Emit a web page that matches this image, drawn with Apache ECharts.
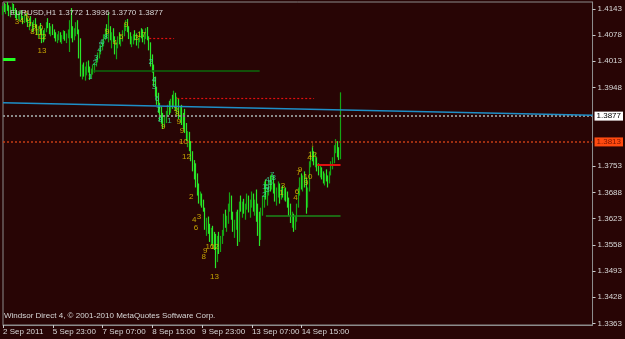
<!DOCTYPE html>
<html>
<head>
<meta charset="utf-8">
<script src="https://cdn.jsdelivr.net/npm/echarts@6/dist/echarts.min.js"></script>
<style>
  html, body { margin: 0; padding: 0; background: #280505; }
  #chart { width: 625px; height: 339px; }
</style>
</head>
<body>
<div id="chart"></div>
<script>
// EURUSD H1, one bar per hour
const xTickLabels = ['2 Sep 2011', '5 Sep 23:00', '7 Sep 07:00', '8 Sep 15:00', '9 Sep 23:00', '13 Sep 07:00', '14 Sep 15:00'];
const barsPerTick = 32;
const slotCount = 380; // chart leaves empty room to the right of the last bar
const yTicks = [1.3363, 1.3428, 1.3493, 1.3558, 1.3623, 1.3688, 1.3753, 1.3948, 1.4013, 1.4078, 1.4143];

const firstOpen = 1.4135;
const closes = [
  1.4145, 1.4140, 1.4150, 1.4142, 1.4130, 1.4145, 1.4150, 1.4135, 1.4128, 1.4120,
  1.4122, 1.4130, 1.4118, 1.4110, 1.4125, 1.4115, 1.4102, 1.4112, 1.4105, 1.4090,
  1.4110, 1.4100, 1.4082, 1.4095, 1.4085, 1.4075, 1.4070, 1.4090, 1.4105, 1.4100,
  1.4085, 1.4095, 1.4082, 1.4075, 1.4068, 1.4075, 1.4082, 1.4065, 1.4072, 1.4085,
  1.4070, 1.4078, 1.4088, 1.4105, 1.4090, 1.4070, 1.4088, 1.4100, 1.4085, 1.4030,
  1.3985, 1.3995, 1.3980, 1.3990, 1.4005, 1.3990, 1.3975, 1.3990, 1.4000, 1.4008,
  1.4020, 1.4030, 1.4040, 1.4050, 1.4060, 1.4075, 1.4085, 1.4080, 1.4090, 1.4070,
  1.4080, 1.4065, 1.4040, 1.4050, 1.4070, 1.4060, 1.4072, 1.4085, 1.4100, 1.4110,
  1.4090, 1.4075, 1.4060, 1.4068, 1.4075, 1.4070, 1.4058, 1.4065, 1.4083, 1.4080,
  1.4065, 1.4078, 1.4088, 1.4070, 1.4050, 1.4010, 1.3995, 1.3960, 1.3935, 1.3915,
  1.3895, 1.3880, 1.3870, 1.3862, 1.3875, 1.3885, 1.3900, 1.3890, 1.3915, 1.3905,
  1.3930, 1.3895, 1.3915, 1.3880, 1.3890, 1.3865, 1.3855, 1.3845, 1.3825, 1.3830,
  1.3800, 1.3775, 1.3750, 1.3735, 1.3710, 1.3705, 1.3670, 1.3680, 1.3660, 1.3648,
  1.3605, 1.3615, 1.3592, 1.3575, 1.3590, 1.3568, 1.3560, 1.3520, 1.3570, 1.3545,
  1.3575, 1.3585, 1.3625, 1.3610, 1.3620, 1.3650, 1.3675, 1.3630, 1.3600, 1.3610,
  1.3630, 1.3570, 1.3655, 1.3650, 1.3660, 1.3645, 1.3655, 1.3675, 1.3648, 1.3660,
  1.3680, 1.3650, 1.3665, 1.3625, 1.3600, 1.3575, 1.3640, 1.3670, 1.3705, 1.3680,
  1.3690, 1.3710, 1.3700, 1.3725, 1.3695, 1.3675, 1.3690, 1.3705, 1.3670, 1.3690,
  1.3680, 1.3688, 1.3675, 1.3660, 1.3640, 1.3625, 1.3630, 1.3600, 1.3620, 1.3650,
  1.3690, 1.3715, 1.3700, 1.3720, 1.3710, 1.3650, 1.3690, 1.3755, 1.3780, 1.3775,
  1.3760, 1.3770, 1.3750, 1.3740, 1.3745, 1.3730, 1.3725, 1.3730, 1.3720, 1.3715,
  1.3735, 1.3755, 1.3770, 1.3795, 1.3800, 1.3785, 1.3772, 1.3877
];
const highs = [
  1.4150, 1.4158, 1.4155, 1.4160, 1.4152, 1.4148, 1.4158, 1.4155, 1.4145, 1.4140,
  1.4138, 1.4135, 1.4140, 1.4125, 1.4130, 1.4132, 1.4120, 1.4118, 1.4125, 1.4110,
  1.4115, 1.4120, 1.4105, 1.4100, 1.4108, 1.4095, 1.4090, 1.4095, 1.4110, 1.4120,
  1.4108, 1.4100, 1.4105, 1.4092, 1.4085, 1.4080, 1.4088, 1.4085, 1.4078, 1.4090,
  1.4088, 1.4082, 1.4092, 1.4115, 1.4145, 1.4100, 1.4095, 1.4110, 1.4115, 1.4092,
  1.4070, 1.4005, 1.4010, 1.4000, 1.4012, 1.4015, 1.4000, 1.3995, 1.4005, 1.4010,
  1.4025, 1.4035, 1.4045, 1.4055, 1.4065, 1.4080, 1.4095, 1.4105, 1.4135, 1.4100,
  1.4085, 1.4095, 1.4075, 1.4060, 1.4075, 1.4085, 1.4078, 1.4090, 1.4105, 1.4115,
  1.4118, 1.4100, 1.4085, 1.4075, 1.4080, 1.4090, 1.4082, 1.4070, 1.4088, 1.4095,
  1.4092, 1.4085, 1.4095, 1.4098, 1.4075, 1.4060, 1.4030, 1.4005, 1.3975, 1.3950,
  1.3935, 1.3910, 1.3900, 1.3885, 1.3880, 1.3890, 1.3905, 1.3915, 1.3920, 1.3930,
  1.3940, 1.3935, 1.3925, 1.3920, 1.3900, 1.3905, 1.3885, 1.3895, 1.3860, 1.3840,
  1.3838, 1.3815, 1.3790, 1.3768, 1.3760, 1.3735, 1.3710, 1.3690, 1.3685, 1.3670,
  1.3650, 1.3625, 1.3628, 1.3610, 1.3600, 1.3605, 1.3590, 1.3585, 1.3580, 1.3590,
  1.3580, 1.3595, 1.3635, 1.3645, 1.3630, 1.3660, 1.3688, 1.3680, 1.3640, 1.3620,
  1.3640, 1.3645, 1.3665, 1.3680, 1.3665, 1.3672, 1.3660, 1.3685, 1.3680, 1.3670,
  1.3690, 1.3685, 1.3670, 1.3695, 1.3660, 1.3640, 1.3650, 1.3680, 1.3715, 1.3720,
  1.3700, 1.3718, 1.3730, 1.3735, 1.3730, 1.3710, 1.3700, 1.3715, 1.3710, 1.3700,
  1.3705, 1.3698, 1.3700, 1.3690, 1.3675, 1.3660, 1.3640, 1.3635, 1.3630, 1.3660,
  1.3700, 1.3725, 1.3735, 1.3730, 1.3740, 1.3725, 1.3700, 1.3765, 1.3790, 1.3800,
  1.3790, 1.3785, 1.3775, 1.3760, 1.3755, 1.3750, 1.3740, 1.3735, 1.3745, 1.3730,
  1.3740, 1.3765, 1.3775, 1.3805, 1.3820, 1.3815, 1.3800, 1.3936
];
const lows = [
  1.4128, 1.4135, 1.4130, 1.4138, 1.4125, 1.4122, 1.4138, 1.4130, 1.4120, 1.4115,
  1.4118, 1.4112, 1.4115, 1.4105, 1.4108, 1.4110, 1.4098, 1.4090, 1.4100, 1.4085,
  1.4088, 1.4095, 1.4078, 1.4070, 1.4080, 1.4058, 1.4060, 1.4065, 1.4085, 1.4095,
  1.4080, 1.4075, 1.4078, 1.4070, 1.4062, 1.4058, 1.4065, 1.4060, 1.4056, 1.4068,
  1.4064, 1.4058, 1.4070, 1.4036, 1.4070, 1.4060, 1.4065, 1.4075, 1.4080, 1.4020,
  1.3975, 1.3968, 1.3975, 1.3965, 1.3978, 1.3985, 1.3967, 1.3970, 1.3980, 1.3985,
  1.4000, 1.4010, 1.4020, 1.4030, 1.4040, 1.4050, 1.4065, 1.4070, 1.4060, 1.4065,
  1.4045, 1.4060, 1.4030, 1.4018, 1.4045, 1.4055, 1.4050, 1.4062, 1.4075, 1.4088,
  1.4085, 1.4068, 1.4055, 1.4048, 1.4055, 1.4065, 1.4052, 1.4045, 1.4060, 1.4070,
  1.4060, 1.4055, 1.4068, 1.4065, 1.4040, 1.4000, 1.3985, 1.3950, 1.3925, 1.3905,
  1.3885, 1.3865, 1.3858, 1.3845, 1.3850, 1.3860, 1.3875, 1.3880, 1.3885, 1.3895,
  1.3900, 1.3890, 1.3880, 1.3870, 1.3860, 1.3855, 1.3845, 1.3835, 1.3815, 1.3800,
  1.3790, 1.3765, 1.3740, 1.3720, 1.3700, 1.3680, 1.3660, 1.3655, 1.3650, 1.3640,
  1.3595, 1.3580, 1.3585, 1.3565, 1.3555, 1.3560, 1.3545, 1.3500, 1.3515, 1.3535,
  1.3540, 1.3560, 1.3580, 1.3600, 1.3590, 1.3610, 1.3640, 1.3620, 1.3590, 1.3575,
  1.3595, 1.3555, 1.3565, 1.3640, 1.3625, 1.3635, 1.3620, 1.3645, 1.3638, 1.3625,
  1.3650, 1.3640, 1.3630, 1.3615, 1.3580, 1.3555, 1.3570, 1.3630, 1.3650, 1.3670,
  1.3655, 1.3680, 1.3690, 1.3695, 1.3685, 1.3665, 1.3655, 1.3675, 1.3660, 1.3670,
  1.3675, 1.3668, 1.3665, 1.3650, 1.3630, 1.3612, 1.3600, 1.3590, 1.3595, 1.3615,
  1.3650, 1.3680, 1.3695, 1.3690, 1.3700, 1.3635, 1.3650, 1.3690, 1.3750, 1.3765,
  1.3755, 1.3750, 1.3740, 1.3730, 1.3725, 1.3720, 1.3710, 1.3705, 1.3715, 1.3700,
  1.3710, 1.3730, 1.3745, 1.3760, 1.3785, 1.3775, 1.3768, 1.3770
];

// price levels drawn on the chart
const bidPrice = 1.3877;
const alertPrice = 1.3813;
const trendLine = [[0, 1.3910], [slotCount - 1, 1.3879]];
const limeLevel = [[0, 1.4019], [8, 1.4019]];
const greenLevels = [[[58, 1.3990], [165, 1.3990]], [[169, 1.3629], [217, 1.3629]]];
const redDotLevels = [[[94, 1.4070], [110, 1.4070]], [[112, 1.3921], [200, 1.3921]]];
const redLevel = [[202, 1.3756], [217, 1.3756]];

// TD counts printed next to the bars: [bar, price, text]
const yellowCounts = [
  [9, 1.4110, '3'], [12, 1.4113, '4'], [15, 1.4130, '5'], [16, 1.4118, '6'], [17, 1.4103, '7'],
  [19, 1.4086, '8'], [20, 1.4098, '9'], [23, 1.4096, '10'], [23, 1.4083, '11'], [25, 1.4073, '12'],
  [25, 1.4039, '13'], [67, 1.4086, '9'], [72, 1.4058, '4'], [76, 1.4073, '5'], [79, 1.4103, '9'],
  [86, 1.4071, '3'], [89, 1.4078, '17'], [103, 1.3850, '9'],
  [111, 1.3895, '5'], [112, 1.3882, '8'], [113, 1.3862, '9'], [115, 1.3840, '9'], [116, 1.3813, '10'],
  [118, 1.3776, '12'], [121, 1.3676, '2'], [126, 1.3627, '3'], [123, 1.3619, '4'], [124, 1.3600, '6'],
  [129, 1.3528, '8'], [130, 1.3542, '9'], [133, 1.3553, '10'], [136, 1.3553, '12'], [136, 1.3478, '13'],
  [180, 1.3704, '3'], [179, 1.3686, '1'], [188, 1.3674, '4'], [189, 1.3689, '6'], [190, 1.3736, '7'],
  [191, 1.3743, '9'], [195, 1.3711, '9'], [196, 1.3726, '10'], [197, 1.3773, '4'], [199, 1.3781, '12'],
  [199, 1.3805, '↓']
];
const tealCounts = [
  [56, 1.3974, '1'], [59, 1.4009, '2'], [60, 1.4021, '3'], [62, 1.4041, '4'], [63, 1.4053, '5'],
  [64, 1.4061, '6'], [66, 1.4073, '8'],
  [95, 1.4011, '2'], [97, 1.3949, '3'], [97, 1.3967, '4'], [99, 1.3920, '6'], [100, 1.3892, '7'],
  [101, 1.3867, '8'], [107, 1.3865, '1'],
  [168, 1.3701, '1'], [168, 1.3681, '2'], [170, 1.3694, '3'], [170, 1.3719, '4'], [170, 1.3701, '5'],
  [172, 1.3711, '6'], [173, 1.3731, '7'], [174, 1.3724, '8']
];

const font = "'Liberation Sans', Arial, sans-serif";

const slots = [];
for (let i = 0; i < slotCount; i++) slots.push(String(i));

const ohlc = [];
for (let i = 0; i < closes.length; i++) {
  const open = i === 0 ? firstOpen : closes[i - 1];
  ohlc.push([open, closes[i], lows[i], highs[i]]);
}

const seg = (pts, style) => [
  { coord: pts[0], lineStyle: style },
  { coord: pts[1] }
];

const priceTag = (bg, fg) => ({
  show: true,
  position: 'end',
  distance: 2,
  formatter: (p) => Number(p.value).toFixed(4),
  backgroundColor: bg,
  color: fg,
  fontSize: 8,
  fontFamily: font,
  padding: [1, 2, 0, 2]
});

const showTick = (i) => i % barsPerTick === 0 && i / barsPerTick < xTickLabels.length;

const countSeries = (list, color) => ({
  type: 'scatter',
  symbolSize: 1,
  itemStyle: { color: 'rgba(0,0,0,0)' },
  silent: true,
  z: 3,
  label: {
    show: true,
    position: 'inside',
    formatter: '{b}',
    color: color,
    fontSize: 8,
    fontFamily: font
  },
  labelLayout: { hideOverlap: false },
  data: list.map((d) => ({ value: [d[0], d[1]], name: d[2] }))
});

const chart = echarts.init(document.getElementById('chart'));
chart.setOption({
  backgroundColor: '#280505',
  animation: false,
  title: {
    text: 'EURUSD,H1 1.3772 1.3936 1.3770 1.3877',
    left: 5,
    top: 4,
    textStyle: { color: '#d8d8d8', fontSize: 8, fontWeight: 'normal', fontFamily: font }
  },
  graphic: [{
    type: 'text',
    left: 4,
    top: 312,
    style: {
      text: 'Windsor Direct 4, © 2001-2010 MetaQuotes Software Corp.',
      fill: '#d8d8d8',
      fontSize: 8,
      fontFamily: font
    }
  }],
  grid: {
    left: 2,
    right: 30,
    top: 2,
    bottom: 14,
    show: true,
    borderColor: '#8c8c8c',
    borderWidth: 1
  },
  xAxis: {
    type: 'category',
    data: slots,
    boundaryGap: false,
    axisLine: { lineStyle: { color: '#8c8c8c' } },
    axisTick: { interval: showTick, length: 3, lineStyle: { color: '#c8c8c8' } },
    axisLabel: {
      interval: showTick,
      hideOverlap: false,
      formatter: (v, i) => xTickLabels[i / barsPerTick] || '',
      align: 'left',
      margin: 3,
      color: '#d8d8d8',
      fontSize: 8,
      fontFamily: font
    },
    splitLine: { show: false }
  },
  yAxis: {
    type: 'value',
    position: 'right',
    min: 1.3359,
    max: 1.4160,
    splitLine: { show: false },
    axisLine: { show: true, lineStyle: { color: '#8c8c8c' } },
    axisTick: { show: true, customValues: yTicks, length: 3, lineStyle: { color: '#c8c8c8' } },
    axisLabel: {
      customValues: yTicks,
      formatter: (v) => v.toFixed(4),
      color: '#d8d8d8',
      fontSize: 8,
      margin: 5,
      fontFamily: font
    }
  },
  series: [
    {
      name: 'EURUSD',
      type: 'candlestick',
      barWidth: 1,
      data: ohlc,
      itemStyle: {
        color: '#14a514',
        color0: '#2ae62a',
        borderColor: '#14a514',
        borderColor0: '#2ae62a',
        borderWidth: 1.2
      },
      markLine: {
        silent: true,
        precision: 4,
        symbol: ['none', 'none'],
        label: { show: false },
        data: [
          { yAxis: bidPrice, lineStyle: { color: '#8a8a8a', type: [2, 2], width: 2 }, label: priceTag('#ffffff', '#000000') },
          { yAxis: alertPrice, lineStyle: { color: '#c43c14', type: [2, 2], width: 1.5 }, label: priceTag('#ff4a10', '#7a1500') },
          seg(trendLine, { color: '#1e8fc8', width: 1.5, type: 'solid' }),
          seg(limeLevel, { color: '#22ff22', width: 3, type: 'solid' }),
          seg(greenLevels[0], { color: '#0b6a0b', width: 1.5, type: 'solid' }),
          seg(greenLevels[1], { color: '#1a8a1a', width: 1.5, type: 'solid' }),
          seg(redDotLevels[0], { color: '#e01010', width: 1.2, type: [2, 2] }),
          seg(redDotLevels[1], { color: '#e01010', width: 1.2, type: [2, 2] }),
          seg(redLevel, { color: '#e01010', width: 2, type: 'solid' })
        ]
      }
    },
    countSeries(yellowCounts, '#e8c800'),
    countSeries(tealCounts, '#3de0a8')
  ]
});
</script>
</body>
</html>
